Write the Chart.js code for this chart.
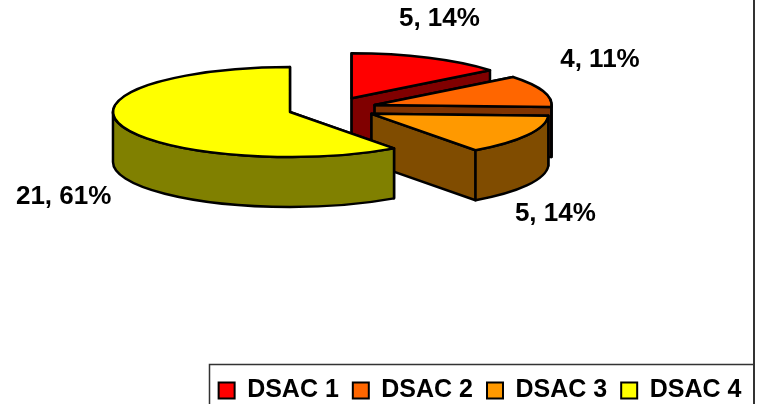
<!DOCTYPE html>
<html>
<head>
<meta charset="utf-8">
<title>DSAC</title>
<script src="https://cdn.jsdelivr.net/npm/chart.js@4"></script>
<style>
  html, body { margin: 0; padding: 0; background: #fff; }
  canvas { display: block; }
</style>
</head>
<body>
<canvas id="chart" width="760" height="404"></canvas>
<script>
const categories = ['DSAC 1', 'DSAC 2', 'DSAC 3', 'DSAC 4'];
const counts = [5, 4, 5, 21];
const percents = [14, 11, 14, 61];
const topColors = ['#FF0000', '#FF6600', '#FF9900', '#FFFF00'];
const sideColors = ['#800000', '#803300', '#804C00', '#808000'];

// pie position on the page, the tilt and the height of the 3D walls
const pieX = 332.3;
const pieY = 108.5;
const tilt = 0.254;
const depth = 50;
const radius = 177;
const explode = 44.5;

// where the value text sits, counted from the middle of the rim of each slice
const labelNudge = [[11, -39], [57, -31], [28, 79], [-58, 71]];

function sliceCentre(arc) {
  const mid = (arc.startAngle + arc.endAngle) / 2;
  return { x: pieX + Math.cos(mid) * explode, y: pieY + Math.sin(mid) * explode * tilt };
}

function rimPoint(c, r, angle) {
  return { x: c.x + Math.cos(angle) * r, y: c.y + Math.sin(angle) * r * tilt };
}

// flat wall from the centre of the slice out to the rim
function drawCutFace(ctx, c, r, angle) {
  const p = rimPoint(c, r, angle);
  ctx.beginPath();
  ctx.moveTo(c.x, c.y);
  ctx.lineTo(p.x, p.y);
  ctx.lineTo(p.x, p.y + depth);
  ctx.lineTo(c.x, c.y + depth);
  ctx.closePath();
  ctx.fill();
  ctx.stroke();
}

// curved wall, only the part on the front half of the ellipse can be seen
function drawRimWall(ctx, c, r, start, end) {
  const a = Math.max(start, 0);
  const b = Math.min(end, Math.PI);
  if (b <= a) return;
  ctx.beginPath();
  ctx.ellipse(c.x, c.y, r, r * tilt, 0, a, b);
  ctx.ellipse(c.x, c.y + depth, r, r * tilt, 0, b, a, true);
  ctx.closePath();
  ctx.fill();
  ctx.stroke();
}

const pie3d = {
  id: 'pie3d',
  afterLayout(chart) {
    // legend sits lower than the library would put it
    chart.legend.top += 9;
    chart.legend.bottom += 9;
    chart.legend.left += 2;
    chart.legend.right += 2;
  },
  beforeDatasetsDraw(chart) {
    const ctx = chart.ctx;
    const arcs = chart.getDatasetMeta(0).data;
    ctx.save();
    ctx.lineWidth = 2.5;
    ctx.lineJoin = 'round';
    ctx.strokeStyle = '#000';
    arcs.forEach((arc, i) => {
      const c = sliceCentre(arc);
      const r = arc.outerRadius;
      ctx.fillStyle = sideColors[i];
      drawCutFace(ctx, c, r, arc.startAngle);
      drawCutFace(ctx, c, r, arc.endAngle);
      drawRimWall(ctx, c, r, arc.startAngle, arc.endAngle);

      // the top is the library's own arc, squashed into an ellipse
      ctx.save();
      ctx.translate(c.x, c.y);
      ctx.scale(1, tilt);
      ctx.translate(-arc.x, -arc.y);
      arc.draw(ctx);
      ctx.restore();

      ctx.lineWidth = 2.5;
      ctx.strokeStyle = '#000';
      ctx.beginPath();
      ctx.moveTo(c.x, c.y);
      ctx.ellipse(c.x, c.y, r, r * tilt, 0, arc.startAngle, arc.endAngle);
      ctx.closePath();
      ctx.stroke();
    });

    ctx.fillStyle = '#000';
    ctx.font = 'bold 26px "Liberation Sans", Arial, sans-serif';
    ctx.textAlign = 'center';
    ctx.textBaseline = 'middle';
    arcs.forEach((arc, i) => {
      const mid = (arc.startAngle + arc.endAngle) / 2;
      const p = rimPoint(sliceCentre(arc), arc.outerRadius, mid);
      ctx.fillText(counts[i] + ', ' + percents[i] + '%', p.x + labelNudge[i][0], p.y + labelNudge[i][1]);
    });
    ctx.restore();
    return false;
  },
  afterDraw(chart) {
    const ctx = chart.ctx;
    ctx.save();
    ctx.strokeStyle = '#333';
    ctx.lineWidth = 2;
    ctx.beginPath();
    ctx.moveTo(754, 0);
    ctx.lineTo(754, 404);
    ctx.stroke();
    ctx.beginPath();
    ctx.moveTo(209.5, 404);
    ctx.lineTo(209.5, 364.5);
    ctx.lineTo(754, 364.5);
    ctx.lineWidth = 1.5;
    ctx.stroke();
    ctx.restore();
  }
};

new Chart(document.getElementById('chart'), {
  type: 'pie',
  data: {
    labels: categories,
    datasets: [{
      data: counts,
      backgroundColor: topColors,
      borderColor: '#000',
      borderWidth: 2
    }]
  },
  options: {
    responsive: false,
    animation: false,
    radius: radius,
    layout: { padding: { left: 196, right: 0, top: 0, bottom: 0 } },
    plugins: {
      tooltip: { enabled: false },
      legend: {
        position: 'bottom',
        labels: {
          boxWidth: 16,
          boxHeight: 16,
          padding: 14,
          color: '#000',
          font: { family: '"Liberation Sans", Arial, sans-serif', size: 25, weight: 'bold' }
        }
      }
    }
  },
  plugins: [pie3d]
});
</script>
</body>
</html>
